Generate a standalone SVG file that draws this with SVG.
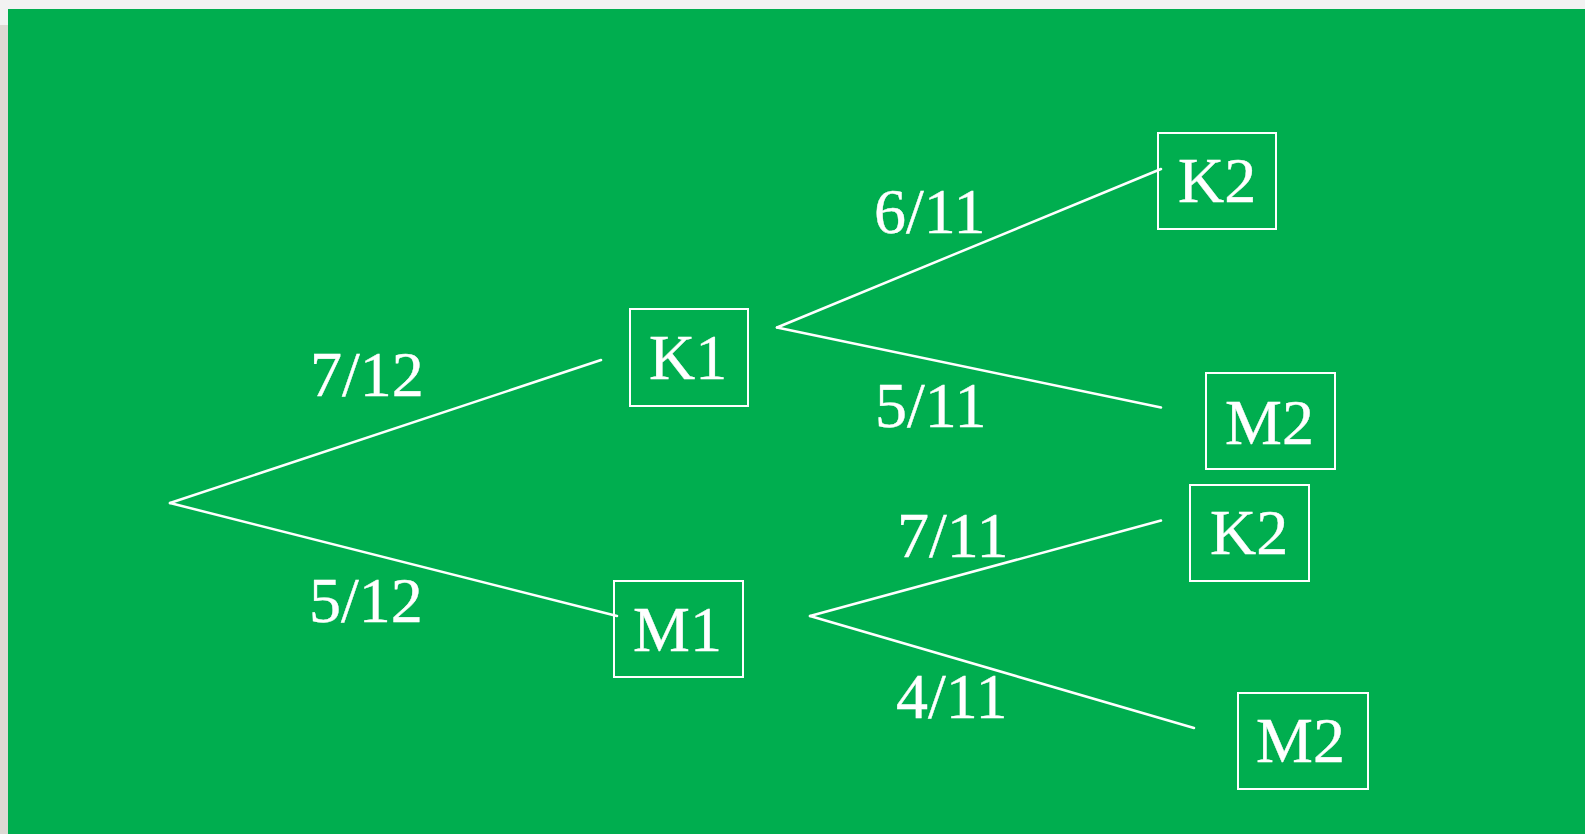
<svg xmlns="http://www.w3.org/2000/svg" width="1585" height="834" viewBox="0 0 1585 834">
<style>
.box{fill:none;stroke:#ffffff;stroke-width:2}
.edge{fill:none;stroke:#ffffff;stroke-width:2.5;stroke-linecap:round}
text{font-family:"Liberation Serif","Times New Roman",serif;font-size:64px;fill:#ffffff;stroke:#ffffff;stroke-width:0.4}
</style>
<rect x="0" y="0" width="1585" height="834" fill="#f2f2f2"/>
<rect x="0" y="25" width="8" height="809" fill="#ddd9d3"/>
<rect x="8" y="9" width="1577" height="825" fill="#00ae4f"/>
<g id="connectors">
<line class="edge" x1="170" y1="503" x2="601" y2="360"/>
<line class="edge" x1="170" y1="503" x2="617" y2="616"/>
<line class="edge" x1="777" y1="327.5" x2="1161" y2="169"/>
<line class="edge" x1="777" y1="327.5" x2="1161" y2="407.5"/>
<line class="edge" x1="810" y1="616" x2="1161" y2="520.5"/>
<line class="edge" x1="810" y1="616" x2="1194" y2="728"/>
</g>
<g id="labels">
<text x="310" y="396">7/12</text>
<text x="309" y="622">5/12</text>
<text x="874" y="233">6/11</text>
<text x="875" y="427">5/11</text>
<text x="897" y="557">7/11</text>
<text x="896" y="718">4/11</text>
</g>
<g id="K1"><rect class="box" x="630" y="309" width="118" height="97"/><text x="649" y="379">K1</text></g>
<g id="M1"><rect class="box" x="614" y="581" width="129" height="96"/><text x="633" y="651">M1</text></g>
<g id="K2a"><rect class="box" x="1158" y="133" width="118" height="96"/><text x="1178" y="202">K2</text></g>
<g id="M2a"><rect class="box" x="1206" y="373" width="129" height="96"/><text x="1225" y="444">M2</text></g>
<g id="K2b"><rect class="box" x="1190" y="485" width="119" height="96"/><text x="1210" y="554">K2</text></g>
<g id="M2b"><rect class="box" x="1238" y="693" width="130" height="96"/><text x="1256" y="762">M2</text></g>
</svg>
